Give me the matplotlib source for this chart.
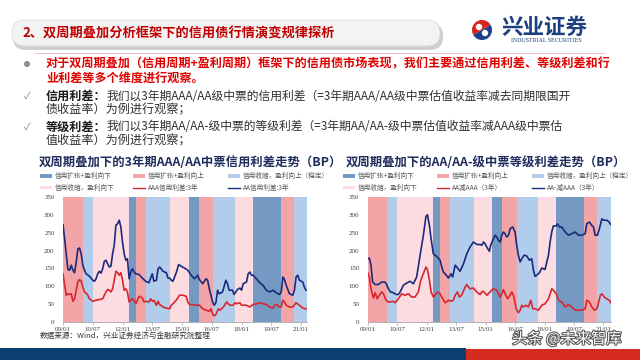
import matplotlib
matplotlib.use("Agg")
import matplotlib.pyplot as plt
from matplotlib.patches import FancyBboxPatch, Rectangle, Wedge, Circle
import matplotlib.patheffects as pe

plt.rcParams['font.family'] = ['Noto Sans CJK SC', 'DejaVu Sans']

# month index counted from 2009/01
tick_months = [0, 18, 36, 54, 72, 90, 108, 126, 144]
tick_labels = ['09/01', '10/07', '12/01', '13/07', '15/01', '16/07', '18/01', '19/07', '21/01']
y_ticks = [0, 50, 100, 150, 200, 250, 300, 350]

# double-cycle phases (start/end month of each shaded band)
band_edges = [0, 12, 18, 40, 44, 50, 65, 76, 82, 91, 104, 115, 132, 140, 149]
band_kinds = ['ku_up', 'shou_up', 'shou_down', 'ku_down',
              'ku_up', 'shou_up', 'shou_down', 'ku_down',
              'ku_up', 'shou_up', 'shou_down', 'ku_down',
              'ku_up', 'shou_up']
band_colors = {'ku_down': '#7499c2', 'ku_up': '#f3a4a7',
               'shou_up': '#b2cdec', 'shou_down': '#fcdce1'}
band_names = {'ku_down': '信用扩张+盈利向下', 'ku_up': '信用扩张+盈利向上',
              'shou_up': '信用收缩，盈利向上（稳定）', 'shou_down': '信用收缩，盈利向下'}

# left chart: AA credit spread 3Y (navy)
aa_m = [0, 1, 2, 3, 4, 5, 6, 7, 8, 9, 10, 11, 12, 13, 14, 16, 18, 19, 20, 21, 22, 23, 24, 25, 26,
        27, 28, 29, 30, 31, 32, 33, 34, 35, 36, 37, 38, 39, 40, 41, 42, 43, 44, 46, 48, 50, 52, 54, 55,
        56.5, 57.5, 58.5, 60.5, 62.5, 63.5, 64.5, 65.5, 66.5, 67.5, 68.5, 70, 71.5, 73.5, 75.5, 77.5,
        79.5, 81.5, 82.5, 84.5, 86.5, 87.5, 88.5, 90.5, 91.5, 92.5, 93.5, 94.5, 96.5, 98.5, 99.5,
        100.5, 102.5, 103.5, 104.5, 105.5, 107, 108, 109, 111, 112, 113, 114, 115, 117, 119, 121,
        123, 125, 127, 129, 131, 132, 133, 134, 135, 137, 139, 140, 141, 142, 143, 145, 146, 147]
aa_v = [272, 233, 187, 147, 145, 159, 145, 138, 168, 205, 207, 191, 159, 145, 135, 128, 117, 114,
        121, 135, 142, 137, 149, 170, 173, 163, 154, 156, 191, 215, 271, 275, 285, 266, 224, 191,
        173, 177, 121, 140, 149, 140, 135, 133, 123, 114, 110, 135, 114, 117, 149, 154, 142, 138,
        123, 123, 117, 114, 126, 138, 161, 156, 151, 145, 131, 121, 131, 119, 107, 121, 117, 93,
        56, 47, 54, 89, 79, 84, 117, 107, 89, 89, 77, 84, 91, 95, 89, 107, 112, 135, 140, 131, 131,
        121, 110, 103, 89, 84, 89, 82, 77, 84, 126, 119, 103, 79, 75, 89, 126, 131, 117, 112, 98, 89]

# left chart: AAA credit spread 3Y (red)
aaa_m = [0, 1, 2, 3, 4, 5, 6, 7, 8, 9, 10, 11, 12, 13, 14, 15, 16, 18, 20, 22, 24, 25, 26, 27, 28,
         29, 30, 31, 32, 33, 34, 35, 36, 37, 38, 39, 40, 41, 42, 43, 44, 45, 46, 48, 49, 50, 52, 53,
         54, 55, 56.5, 57.5, 58.5, 60.5, 62.5, 64.5, 65.5, 66.5, 68.5, 70.5, 72.5, 74.5, 75.5, 76.5,
         78.5, 80.5, 82.5, 84.5, 86.5, 88.5, 89.5, 90.5, 91.5, 92.5, 94, 95, 97, 99, 100, 101, 103,
         104, 105, 107, 108, 109, 111, 113, 115, 117, 119, 121, 123, 125, 127, 128, 129, 131, 132,
         133, 134, 135, 137, 139, 141, 143, 145, 147]
aaa_v = [135, 103, 75, 79, 77, 79, 58, 65, 89, 112, 119, 114, 98, 84, 81, 75, 65, 58, 61, 63, 65,
         75, 84, 91, 89, 84, 93, 117, 142, 138, 131, 138, 117, 89, 93, 84, 56, 61, 65, 61, 51, 61,
         72, 67, 56, 58, 56, 65, 58, 61, 47, 58, 49, 42, 39, 37, 47, 51, 61, 75, 75, 72, 56, 49, 49,
         47, 47, 37, 33, 30, 37, 23, 17, 21, 37, 33, 42, 56, 51, 47, 47, 54, 51, 54, 47, 47, 47, 42,
         49, 51, 54, 51, 49, 42, 39, 47, 49, 42, 42, 61, 56, 47, 42, 42, 54, 47, 39, 37]

# right chart: AA- minus AAA 3Y (navy)
aam_m = [0, 1, 2, 3, 4.5, 6.5, 8.5, 10.5, 11.6, 12.6, 14, 15.7, 17.3, 18.7, 19.8, 21.8, 23.8, 25.9,
         27.9, 29.9, 32, 33, 34, 35.6, 36.5, 37.7, 38.7, 40.1, 41.1, 42.6, 44.2, 45.2, 46.2, 47.3,
         49.3, 50.9, 51.9, 53.4, 54.4, 56.4, 58.5, 60.5, 62.5, 64.6, 66.6, 68.6, 69.7, 70.7, 71.7,
         72.7, 74.3, 75.1, 76.4, 77.8, 78.8, 79.8, 80.9, 81.9, 82.9, 83.9, 84.9, 86, 87, 88.6, 90,
         91, 92, 93.1, 94.1, 95.5, 97.1, 98.8, 100.2, 101.2, 102.2, 103.3, 104.9, 106.3, 107.3,
         108.3, 110.4, 111.4, 112.4, 113.4, 115.1, 115.9, 117.1, 118.5, 120.6, 122.6, 124.6, 126.7,
         128.7, 130.7, 132.8, 133.8, 135.4, 136.9, 137.9, 138.9, 140.3, 141.5, 143, 144, 146, 147,
         148.4]
aam_v = [177, 179, 159, 112, 105, 105, 112, 112, 105, 93, 84, 82, 77, 77, 84, 103, 109, 114, 107,
         126, 187, 215, 243, 296, 300, 270, 233, 191, 187, 182, 173, 154, 140, 135, 123, 135, 126,
         159, 154, 142, 163, 191, 210, 224, 217, 217, 215, 224, 219, 210, 198, 215, 229, 243, 238,
         229, 224, 243, 252, 247, 238, 243, 261, 266, 252, 215, 187, 168, 177, 187, 185, 173, 177,
         145, 128, 131, 138, 151, 149, 147, 187, 224, 252, 269, 269, 275, 266, 266, 252, 243, 247,
         252, 243, 243, 247, 275, 280, 270, 266, 243, 243, 261, 289, 285, 285, 282, 273]

# right chart: AA minus AAA 3Y (red)
aad_m = [0, 1, 2, 3.5, 4.5, 5.9, 7.1, 8.6, 9.6, 11, 12.2, 13.6, 15.3, 16.7, 18.7, 20.8, 22.8, 24.8,
         26.9, 28.9, 30.9, 32.4, 33.6, 35.6, 36.5, 37.7, 38.7, 40.1, 41.1, 42.6, 44.2, 45.8, 47.3,
         49.3, 50.9, 52.3, 53.4, 54.8, 56, 57.4, 59.5, 60.5, 61.5, 62.5, 64.6, 66.6, 68.6, 70, 71.1,
         72.7, 74.7, 76.7, 78.8, 80.9, 81.9, 82.9, 83.9, 85.4, 87, 88, 89, 90.7, 92, 93.1, 94.1, 95.1,
         96.7, 98.1, 99.6, 100.8, 102.2, 104.3, 106.3, 108.3, 110.4, 111.4, 112.4, 113.4, 115.1,
         116.5, 118.5, 120.6, 122.6, 124.6, 126.7, 128.7, 130.7, 132.8, 133.8, 135.4, 136.9, 138.4,
         140, 142.1, 143, 144.4, 146, 147.5, 148.4]
aad_v = [138, 126, 93, 67, 82, 65, 75, 84, 79, 63, 56, 56, 58, 54, 65, 79, 75, 79, 70, 70, 84, 117,
         131, 154, 147, 117, 84, 70, 75, 84, 79, 65, 54, 61, 58, 61, 75, 84, 70, 75, 98, 105, 98, 93,
         95, 84, 77, 86, 84, 75, 84, 93, 89, 70, 79, 91, 79, 65, 75, 84, 75, 37, 26, 33, 47, 42, 47,
         42, 61, 37, 37, 33, 47, 51, 65, 79, 93, 89, 79, 61, 56, 42, 49, 42, 33, 33, 33, 37, 61, 56,
         42, 33, 37, 75, 79, 70, 65, 61, 54]

navy = '#1b2a7c'
red = '#d8262e'

fig = plt.figure(figsize=(6.4, 3.6), dpi=100)

# slide background layer in pixel coordinates
bg = fig.add_axes([0, 0, 1, 1], zorder=0)
bg.set_xlim(0, 640)
bg.set_ylim(360, 0)
bg.axis('off')

# header pill
bg.add_patch(FancyBboxPatch((13, 23), 430, 27, boxstyle="round,pad=0,rounding_size=13",
                            fc='#cfcfcf', ec='none'))
bg.add_patch(FancyBboxPatch((12, 20), 428, 26, boxstyle="round,pad=0,rounding_size=13",
                            fc='#f3f3f3', ec='#dcdcdc', lw=0.6))
bg.text(22, 34, '2、双周期叠加分析框架下的信用债行情演变规律探析', fontsize=9.5,
        fontweight='bold', color='#c00000', va='center')
bg.plot([35, 604], [53, 53], color='#eeb0b0', lw=0.6)

# logo
bg.add_patch(Wedge((482, 30), 10, 150, 330, fc='#d7261e', ec='none'))
bg.add_patch(Wedge((482, 30), 10, 330, 510, fc='#1c3f8c', ec='none'))
bg.add_patch(Circle((479, 27), 3.2, fc='white', ec='none'))
bg.add_patch(Circle((485, 33), 3.2, fc='white', ec='none'))
bg.text(501, 27, '兴业证券', fontsize=15.5, fontweight='bold', color='#1b3f7f', va='center')
bg.text(546, 40.5, 'INDUSTRIAL SECURITIES', fontsize=4.3, family='Liberation Serif',
        color='#1b3f7f', ha='center', va='center')

# bullet text
bg.add_patch(Circle((27, 64), 3, fc='#8c8c8c', ec='none'))
body = 8.7
bg.text(46, 64, '对于双周期叠加（信用周期+盈利周期）框架下的信用债市场表现，我们主要通过信用利差、等级利差和行',
        fontsize=body, fontweight='bold', color='#e00000', va='center')
bg.text(46, 78.5, '业利差等多个维度进行观察。', fontsize=body, fontweight='bold', color='#e00000', va='center')
em = body * 100 / 72
for y0, label, rest, tail in [
        (96, '信用利差：', '我们以3年期AAA/AA级中票的信用利差（=3年期AAA/AA级中票估值收益率减去同期限国开',
         '债收益率）为例进行观察；'),
        (127, '等级利差：', '我们以3年期AA/AA-级中票的等级利差（=3年期AA/AA-级中票估值收益率减AAA级中票估',
         '值收益率）为例进行观察；')]:
    bg.text(27, y0, '✓', fontsize=7, color='#808080', va='center', ha='center')
    bg.text(46, y0, label, fontsize=body, fontweight='bold', color='#1a1a1a', va='center')
    bg.text(46 + 5 * em, y0, rest, fontsize=8.5, color='#303030', va='center')
    bg.text(46, y0 + 14, tail, fontsize=body, color='#303030', va='center')

# chart titles
bg.text(39, 163, '双周期叠加下的3年期AAA/AA中票信用利差走势（BP）', fontsize=8.9,
        fontweight='bold', color='#1f2c5c', va='center')
bg.text(346, 163, '双周期叠加下的AA/AA-级中票等级利差走势（BP）', fontsize=8.9,
        fontweight='bold', color='#1f2c5c', va='center')

# legends
def legend_row(x_cols, y, items):
    for x, (kind, text) in zip(x_cols, items):
        if kind in band_colors:
            bg.add_patch(Rectangle((x, y - 1.6), 12, 3.2, fc=band_colors[kind], ec='none'))
        else:
            bg.plot([x, x + 12], [y, y], color=kind, lw=1.0)
        bg.text(x + 15, y, text, fontsize=4.8, color='#555555', va='center')

for x_cols, line_names in [([40, 133, 228], ['AAA信用利差:3年', 'AA信用利差:3年']),
                           ([343, 437, 532], ['AA减AAA（3年）', 'AA-减AAA（3年）'])]:
    legend_row(x_cols, 176, [('ku_down', band_names['ku_down']), ('ku_up', band_names['ku_up']),
                             ('shou_up', band_names['shou_up'])])
    legend_row(x_cols, 187.5, [('shou_down', band_names['shou_down']), (red, line_names[0]),
                               (navy, line_names[1])])

bg.text(40, 336, '数据来源：Wind，兴业证券经济与金融研究院整理', fontsize=5.5, color='#333333', va='center')

# footer bars
bg.add_patch(Rectangle((0, 348), 466, 12, fc='#0e3f73', ec='none'))
bg.add_patch(Rectangle((466, 349), 174, 11, fc='#d52b1e', ec='none'))
bg.text(512, 339, '头条 @未来智库', fontsize=11, color='white', va='center',
        path_effects=[pe.withStroke(linewidth=1.5, foreground='#555555')])

# the two charts
def draw_chart(rect, xmax, series):
    ax = fig.add_axes(rect, zorder=1)
    for i, kind in enumerate(band_kinds):
        ax.axvspan(band_edges[i], band_edges[i + 1], color=band_colors[kind], lw=0)
    for m, v, c in series:
        ax.plot(m, v, color=c, lw=1.2)
    ax.set_xlim(0, xmax)
    ax.set_ylim(0, 350)
    ax.set_yticks(y_ticks)
    ax.set_xticks(tick_months)
    ax.set_xticklabels(tick_labels)
    for s in ['top', 'right', 'left']:
        ax.spines[s].set_visible(False)
    ax.spines['bottom'].set_color('#a6a6a6')
    ax.spines['bottom'].set_linewidth(0.6)
    ax.tick_params(axis='x', length=2, width=0.5, color='#a6a6a6', labelsize=5, pad=1.5,
                   labelcolor='#404040')
    ax.tick_params(axis='y', length=0, labelsize=5, pad=6, labelcolor='#404040')
    for lab in ax.get_xticklabels() + ax.get_yticklabels():
        lab.set_fontfamily('Liberation Serif')
    return ax

draw_chart([63 / 640, 1 - 322 / 360, 244 / 640, 125 / 360], 147.6,
           [(aaa_m, aaa_v, red), (aa_m, aa_v, navy)])
draw_chart([367.7 / 640, 1 - 322 / 360, 243 / 640, 125 / 360], 148.4,
           [(aad_m, aad_v, red), (aam_m, aam_v, navy)])

fig.savefig('out.png', dpi=100)
